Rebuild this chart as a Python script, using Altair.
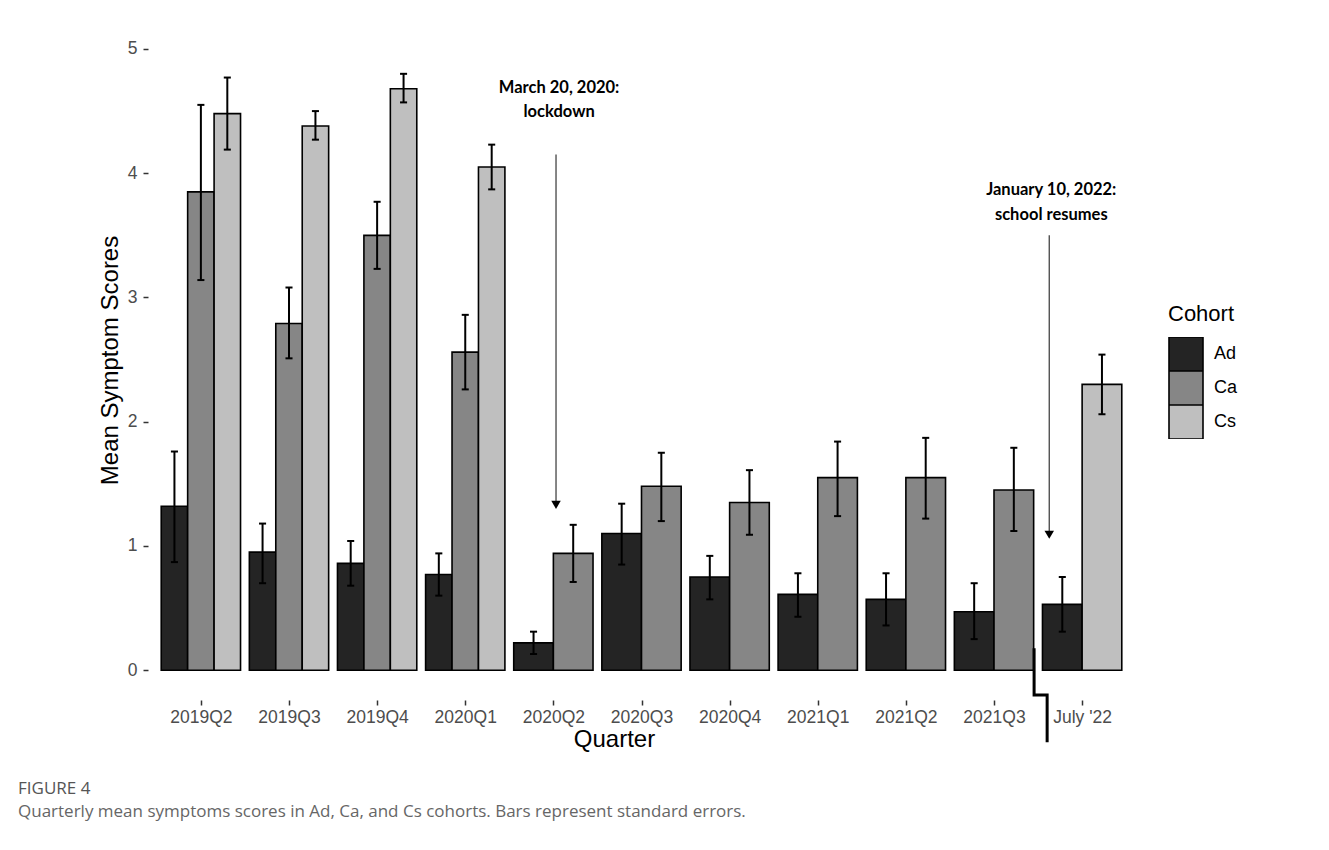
import json
import altair as alt
import pandas as pd

quarters = ["2019Q2", "2019Q3", "2019Q4", "2020Q1", "2020Q2", "2020Q3",
            "2020Q4", "2021Q1", "2021Q2", "2021Q3", "July '22"]
cohorts = ["Ad", "Ca", "Cs"]
cohort_colors = ["#242424", "#868686", "#bfbfbf"]

ad_mean = [1.32, 0.95, 0.86, 0.77, 0.22, 1.10, 0.75, 0.61, 0.57, 0.47, 0.53]
ad_lo = [0.87, 0.70, 0.68, 0.60, 0.13, 0.85, 0.57, 0.43, 0.36, 0.25, 0.31]
ad_hi = [1.76, 1.18, 1.04, 0.94, 0.31, 1.34, 0.92, 0.78, 0.78, 0.70, 0.75]

ca_mean = [3.85, 2.79, 3.50, 2.56, 0.94, 1.48, 1.35, 1.55, 1.55, 1.45, None]
ca_lo = [3.14, 2.51, 3.23, 2.26, 0.71, 1.20, 1.09, 1.24, 1.22, 1.12, None]
ca_hi = [4.55, 3.08, 3.77, 2.86, 1.17, 1.75, 1.61, 1.84, 1.87, 1.79, None]

cs_mean = [4.48, 4.38, 4.68, 4.05, None, None, None, None, None, None, 2.30]
cs_lo = [4.19, 4.27, 4.57, 3.87, None, None, None, None, None, None, 2.06]
cs_hi = [4.77, 4.50, 4.80, 4.23, None, None, None, None, None, None, 2.54]

annot_lines = [["March 20, 2020:", "lockdown"], ["January 10, 2022:", "school resumes"]]
caption_title = "FIGURE 4"
caption_text = "Quarterly mean symptoms scores in Ad, Ca, and Cs cohorts. Bars represent standard errors."

# ---- build bar table (dodged bars fill the group like ggplot position_dodge)
series = {"Ad": (ad_mean, ad_lo, ad_hi), "Ca": (ca_mean, ca_lo, ca_hi), "Cs": (cs_mean, cs_lo, cs_hi)}
rows = []
GROUP_W = 0.9
CAP = 0.04
for qi, q in enumerate(quarters):
    idx = qi + 1
    present = [c for c in cohorts if series[c][0][qi] is not None]
    w = GROUP_W / len(present)
    for i, c in enumerate(present):
        m, lo, hi = series[c][0][qi], series[c][1][qi], series[c][2][qi]
        x0 = idx - GROUP_W / 2 + i * w
        xc = x0 + w / 2
        rows.append(dict(quarter=q, Cohort=c, mean=m, lo=lo, hi=hi, base=0.0,
                         x0=x0, x1=x0 + w, xc=xc, cl=xc - CAP, cr=xc + CAP))
df = pd.DataFrame(rows)

FONT = "Liberation Sans"
xscale = alt.Scale(domain=[0.4, 11.6], nice=False, zero=False)
yscale = alt.Scale(domain=[-0.24, 5.04], nice=False, zero=False)
label_expr = json.dumps(quarters) + "[datum.value - 1]"

xaxis = alt.Axis(values=list(range(1, 12)), labelExpr=label_expr, title="Quarter",
                 grid=False, domain=False, labelFont=FONT, labelFontSize=17.5,
                 labelColor="#4d4d4d", tickColor="#333333", tickSize=5, tickWidth=1.5,
                 labelPadding=3, titleFont=FONT, titleFontSize=24, titleFontWeight="normal",
                 titleColor="black", titlePadding=2, titleX=466, titleAlign="center",
                 labelFlush=False, labelOverlap=False)
yaxis = alt.Axis(values=[0, 1, 2, 3, 4, 5], format="d", title="Mean Symptom Scores", grid=False,
                 domain=False, labelFont=FONT, labelFontSize=17.5, labelColor="#4d4d4d",
                 tickColor="#333333", tickSize=5, tickWidth=1.5, labelPadding=6,
                 titleFont=FONT, titleFontSize=24, titleFontWeight="normal",
                 titleColor="black", titlePadding=5, titleY=316, titleAlign="center")

base = alt.Chart(df)

bars = base.mark_rect(stroke="black", strokeWidth=1.6).encode(
    x=alt.X("x0:Q", scale=xscale, axis=xaxis),
    x2="x1:Q",
    y=alt.Y("base:Q", scale=yscale, axis=yaxis),
    y2="mean:Q",
    color=alt.Color("Cohort:N", scale=alt.Scale(domain=cohorts, range=cohort_colors),
                    legend=alt.Legend(title="Cohort", orient="none", legendX=1020, legendY=260,
                                      symbolType="square", symbolSize=1156,
                                      symbolStrokeColor="black", symbolStrokeWidth=1.6,
                                      symbolOpacity=1, rowPadding=0, clipHeight=34,
                                      labelFont=FONT, labelFontSize=18, labelColor="black",
                                      labelOffset=10, titleFont=FONT, titleFontSize=22,
                                      titleFontWeight="normal", titleColor="black",
                                      titlePadding=11)),
)

err = base.mark_rule(color="black", strokeWidth=2).encode(
    x="xc:Q", y="lo:Q", y2="hi:Q")
cap_hi = base.mark_rule(color="black", strokeWidth=2).encode(
    x="cl:Q", x2="cr:Q", y="hi:Q")
cap_lo = base.mark_rule(color="black", strokeWidth=2).encode(
    x="cl:Q", x2="cr:Q", y="lo:Q")

# ---- annotations (data coordinates)
arrows = pd.DataFrame({"ax": [5.03, 10.627], "ytop": [4.15, 3.50], "ytip": [1.33, 1.09]})
arrow_lines = alt.Chart(arrows).mark_rule(color="#444444", strokeWidth=1.3).encode(
    x="ax:Q", y="ytop:Q", y2="ytip:Q")
arrow_heads = alt.Chart(arrows).mark_point(shape="triangle-down", filled=True, color="black",
                                           size=90, opacity=1).encode(
    x="ax:Q", y="ytip:Q")

texts = pd.DataFrame({
    "tx": [5.065, 5.065, 10.65, 10.65],
    "ty": [4.686, 4.493, 3.865, 3.663],
    "label": [annot_lines[0][0], annot_lines[0][1], annot_lines[1][0], annot_lines[1][1]],
})
annot_text = alt.Chart(texts).mark_text(font="Lato", fontWeight="bold", fontSize=16.5,
                                        color="black", align="center", baseline="middle").encode(
    x="tx:Q", y="ty:Q", text="label:N")

brk = pd.DataFrame({"bx": [10.455, 10.455, 10.603, 10.603],
                    "by": [0.177, -0.20, -0.20, -0.58], "o": [0, 1, 2, 3]})
break_line = alt.Chart(brk).mark_line(color="black", strokeWidth=3, clip=False).encode(
    x="bx:Q", y="by:Q", order="o:Q")

cap_df = pd.DataFrame({"t": [caption_title]})
cap1 = alt.Chart(cap_df).mark_text(font="Open Sans", fontSize=17, color="#555555",
                                   align="left", baseline="middle").encode(
    text="t:N", x=alt.value(-130), y=alt.value(745))
cap_df2 = pd.DataFrame({"t": [caption_text]})
cap2 = alt.Chart(cap_df2).mark_text(font="Open Sans", fontSize=17, color="#666666",
                                    align="left", baseline="middle").encode(
    text="t:N", x=alt.value(-130), y=alt.value(768))

chart = alt.layer(bars, err, cap_hi, cap_lo, arrow_lines, arrow_heads, annot_text,
                  break_line, cap1, cap2).properties(
    width=987, height=656,
    autosize=alt.AutoSizeParams(type="none"),
    padding={"left": 140, "top": 36, "right": 186, "bottom": 142},
    background="white",
).configure_view(stroke=None)

chart.save("out.html", embed_options={"renderer": "svg", "actions": False})
